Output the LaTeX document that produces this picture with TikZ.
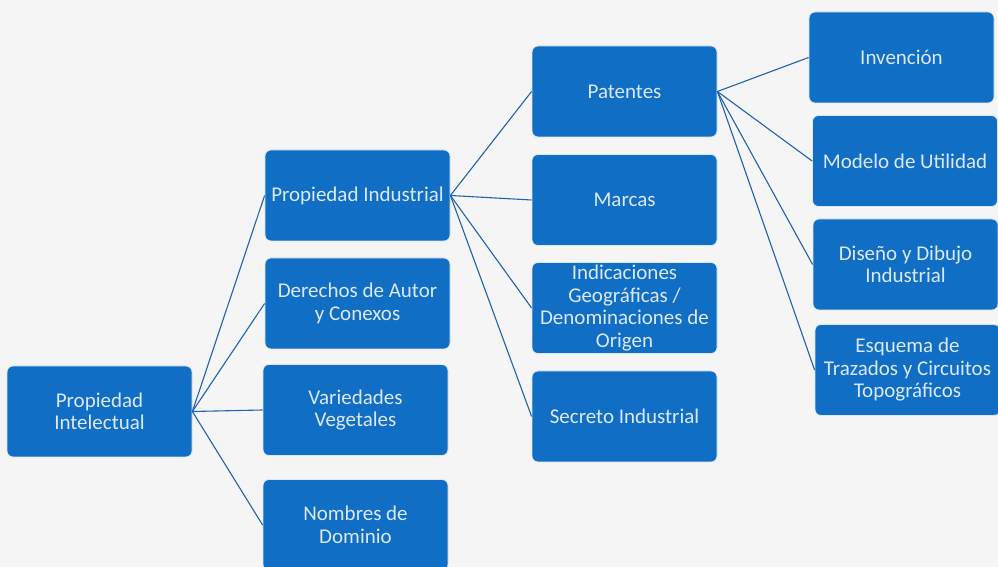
\documentclass[tikz,border=0pt]{standalone}
\usepackage{fontspec}
\setmainfont{Carlito}
\definecolor{bg}{HTML}{F5F5F5}
\definecolor{boxblue}{HTML}{106EC4}
\definecolor{lineblue}{HTML}{2162AE}
\definecolor{txt}{HTML}{DCE8F6}
\begin{document}
\begin{tikzpicture}[x=1pt,y=1pt,
  box/.style={rectangle, rounded corners=6pt, fill=boxblue, draw=white!85!boxblue, line width=0.8pt,
    minimum width=185pt, minimum height=91pt, inner sep=1pt, align=center,
    text=txt, font=\fontsize{21}{22.5}\selectfont},
  conn/.style={draw=lineblue, line width=1.1pt}]
\fill[bg] (0,0) rectangle (998,567);
\useasboundingbox (0,0) rectangle (998,567);
\clip (0,0) rectangle (998,567);
\node[box] (pi) at (99.5,155.5) {Propiedad\\Intelectual};
\node[box] (pind) at (357.5,371.5) {Propiedad Industrial};
\node[box] (der) at (357.5,263.5) {Derechos de Autor\\y Conexos};
\node[box] (var) at (355.5,157) {Variedades\\Vegetales};
\node[box] (nom) at (355.5,42) {Nombres de\\Dominio};
\node[box] (pat) at (624.5,475.5) {Patentes};
\node[box] (mar) at (624.5,367) {Marcas};
\node[box] (ind) at (624.5,259) {Indicaciones\\Geográficas /\\Denominaciones de\\Origen};
\node[box] (sec) at (624.5,150.5) {Secreto Industrial};
\node[box] (inv) at (901.5,509.5) {Invención};
\node[box] (mod) at (905,406) {Modelo de Utilidad};
\node[box] (dis) at (905.5,302.5) {Diseño y Dibujo\\Industrial};
\node[box] (esq) at (907.5,197) {Esquema de\\Trazados y Circuitos\\Topográficos};
\foreach \c in {pind,der,var,nom} \draw[conn] (pi.east) -- (\c.west);
\foreach \c in {pat,mar,ind,sec} \draw[conn] (pind.east) -- (\c.west);
\foreach \c in {inv,mod,dis,esq} \draw[conn] (pat.east) -- (\c.west);
\end{tikzpicture}
\end{document}
